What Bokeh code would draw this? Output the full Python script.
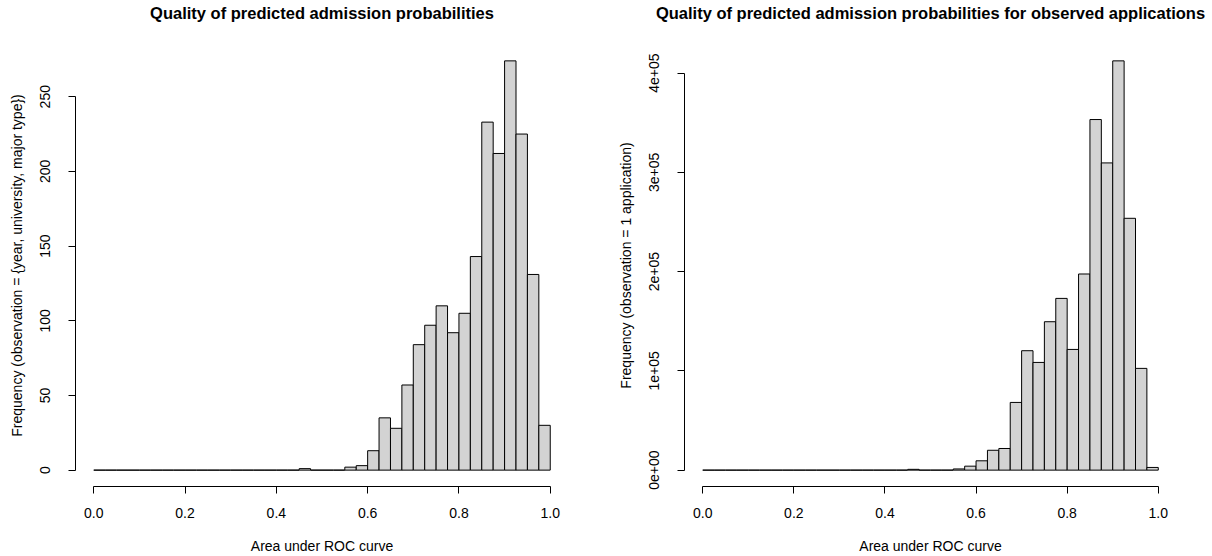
import numpy as np
from bokeh.plotting import figure
from bokeh.layouts import row
from bokeh.models import ColumnDataSource, FixedTicker, Title
from bokeh.embed import file_html
from bokeh.resources import INLINE

# ---- data ----
bin_width = 0.025
bin_left = np.round(np.arange(0, 1, bin_width), 3)  # 40 bins from 0.0 to 1.0

left_counts = [0, 0, 0, 0, 0, 0, 0, 0, 0, 0,
               0, 0, 0, 0, 0, 0, 0, 0, 1, 0,
               0, 0, 2, 3, 13, 35, 28, 57, 84, 97,
               110, 92, 105, 143, 233, 212, 274, 225, 131, 30]

right_counts = [0, 0, 0, 0, 0, 0, 0, 0, 0, 0,
                0, 0, 0, 0, 0, 0, 0, 0, 800, 0,
                0, 0, 1200, 4000, 9400, 20000, 21800, 68200, 120300, 108500,
                149500, 173000, 121600, 197600, 353200, 309500, 412300, 253700, 102500, 2700]

x_ticks = [0.0, 0.2, 0.4, 0.6, 0.8, 1.0]
x_tick_labels = ["0.0", "0.2", "0.4", "0.6", "0.8", "1.0"]
left_y_ticks = [0, 50, 100, 150, 200, 250]
left_y_labels = ["0", "50", "100", "150", "200", "250"]
right_y_ticks = [0, 100000, 200000, 300000, 400000]
right_y_labels = ["0e+00", "1e+05", "2e+05", "3e+05", "4e+05"]

titles = ["Quality of predicted admission probabilities",
          "Quality of predicted admission probabilities for observed applications"]
x_label = "Area under ROC curve"
y_labels = ["Frequency (observation = {year, university, major type})",
            "Frequency (observation = 1 application)"]

FONT = "Liberation Sans"


def make_hist(counts, yticks, ylabels, title, ylab, border_left, border_right):
    counts = np.asarray(counts, dtype=float)
    ymax = counts.max()
    p = figure(width=606, height=556, output_backend="svg", toolbar_location=None,
               title=None,
               x_range=(-0.04, 1.04), y_range=(-0.04 * ymax, 1.04 * ymax),
               min_border_left=border_left, min_border_right=border_right,
               min_border_top=44, min_border_bottom=70)
    src = ColumnDataSource(dict(left=bin_left, right=bin_left + bin_width,
                                top=counts, bottom=np.zeros_like(counts)))
    p.quad(left="left", right="right", top="top", bottom="bottom", source=src,
           fill_color="#D3D3D3", line_color="black", line_width=1)

    # spacer (closest to the frame) then the real title above it
    p.add_layout(Title(text=" ", text_font_size="10px", standoff=10), "above")
    p.add_layout(Title(text=title, align="center", text_font=FONT,
                       text_font_size="16.5px", text_font_style="bold",
                       text_color="black", standoff=0), "above")

    p.xgrid.visible = False
    p.ygrid.visible = False
    p.outline_line_color = None
    p.background_fill_color = "white"
    p.border_fill_color = "white"

    xa = p.xaxis[0]
    xa.ticker = FixedTicker(ticks=x_ticks)
    xa.major_label_overrides = {t: l for t, l in zip(x_ticks, x_tick_labels)}
    xa.bounds = (0, 1)
    xa.axis_label = x_label

    ya = p.yaxis[0]
    ya.ticker = FixedTicker(ticks=yticks)
    ya.major_label_overrides = {t: l for t, l in zip(yticks, ylabels)}
    ya.bounds = (yticks[0], yticks[-1])
    ya.axis_label = ylab
    ya.major_label_orientation = "vertical"

    for ax in (xa, ya):
        ax.axis_line_color = "black"
        ax.axis_line_width = 1
        ax.major_tick_line_color = "black"
        ax.major_tick_out = 7
        ax.major_tick_in = 0
        ax.minor_tick_line_color = None
        ax.major_label_text_font = FONT
        ax.major_label_text_font_size = "14px"
        ax.major_label_text_color = "black"
        ax.axis_label_text_font = FONT
        ax.axis_label_text_font_size = "14px"
        ax.axis_label_text_font_style = "normal"
        ax.axis_label_text_color = "black"
    xa.major_label_standoff = 14
    xa.axis_label_standoff = 17
    ya.major_label_standoff = 18
    ya.axis_label_standoff = 13
    return p


p1 = make_hist(left_counts, left_y_ticks, left_y_labels, titles[0], y_labels[0], 75, 38)
p2 = make_hist(right_counts, right_y_ticks, right_y_labels, titles[1], y_labels[1], 78, 36)

layout = row(p1, p2)
open("out.html", "w").write(file_html(layout, INLINE))
